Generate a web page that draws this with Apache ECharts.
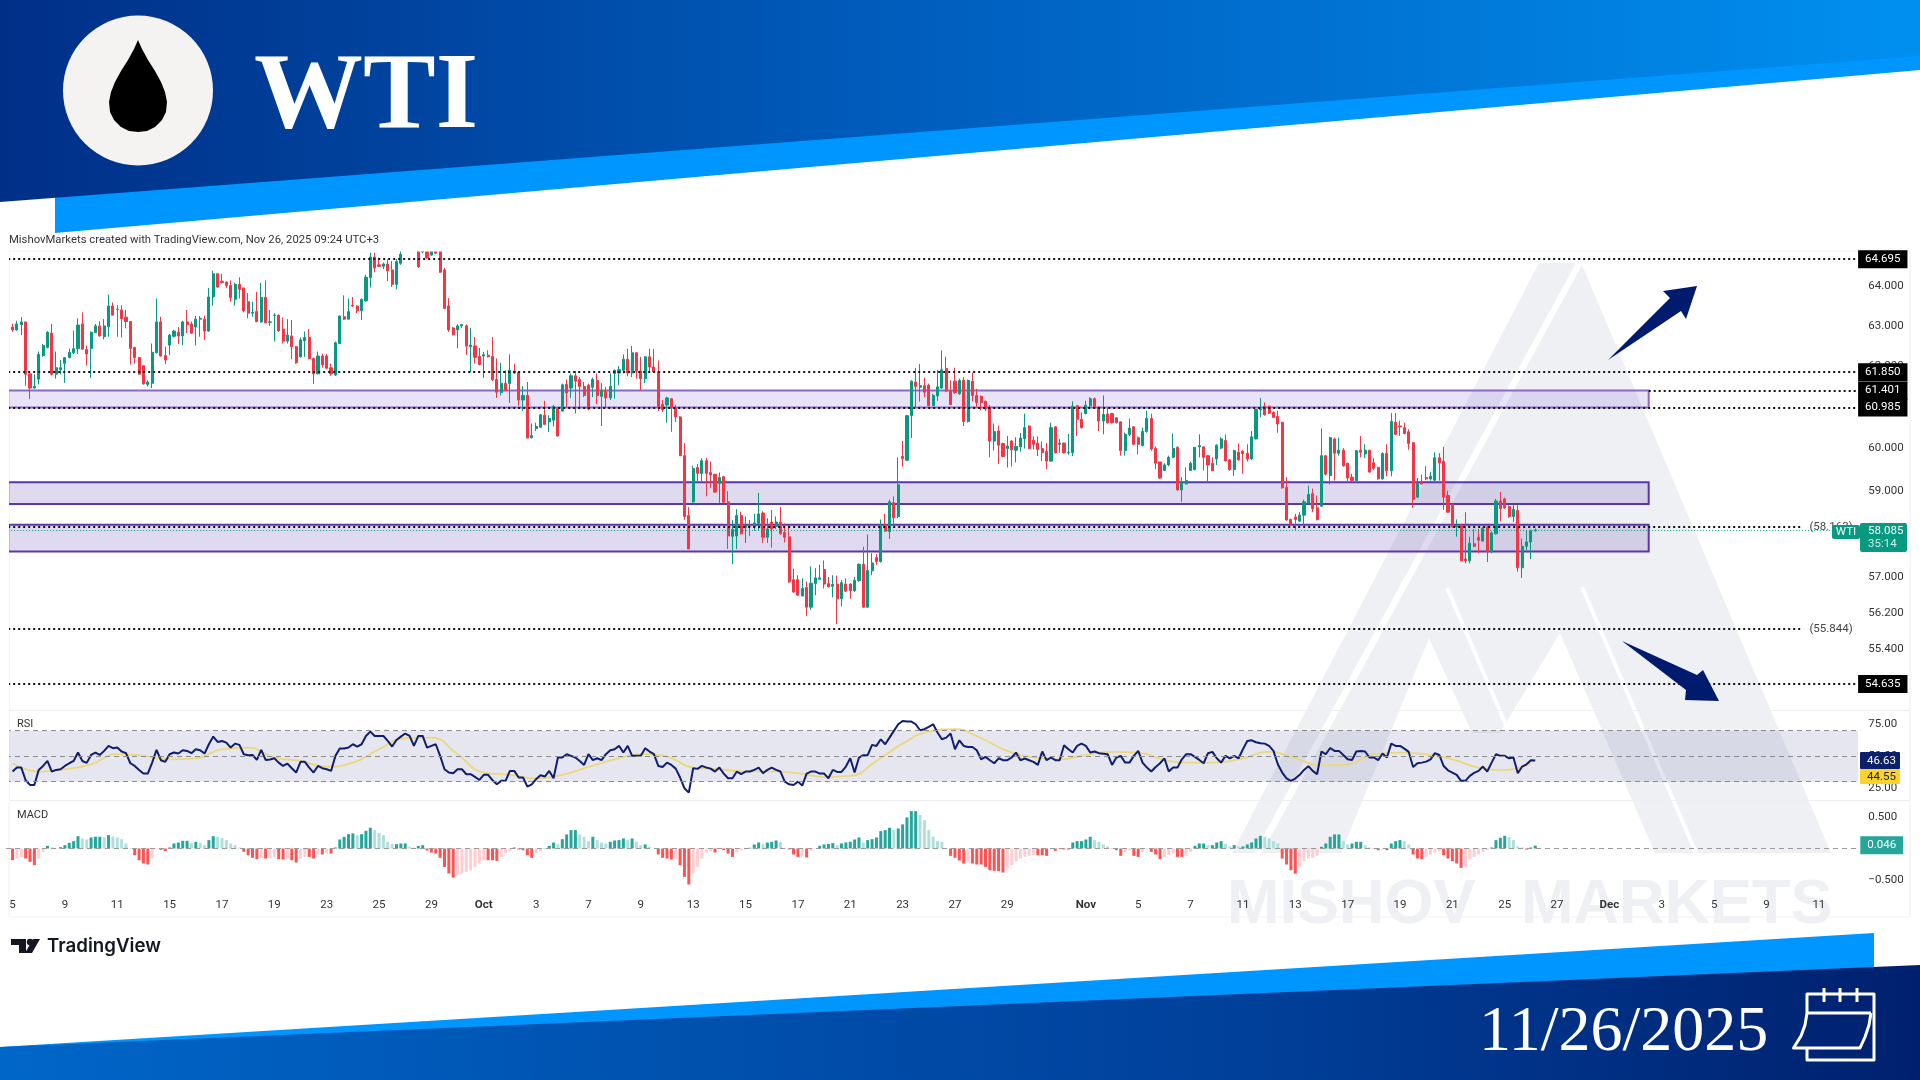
<!DOCTYPE html>
<html>
<head>
<meta charset="utf-8">
<title>WTI</title>
<script src="https://cdn.jsdelivr.net/npm/echarts@6/dist/echarts.min.js"></script>
<style>
html,body{margin:0;padding:0;background:#fff}
#maind{width:1920px;height:1080px}
</style>
</head>
<body>
<div id="maind"></div>
<script>
// candles, rows are [open, close, low, high]
var candlesSep = [
[62.97,62.9,62.85,63.05],[62.9,63.05,62.88,63.13],[63.03,63.1,62.77,63.22],[63.1,61.8,61.52,63.1],[61.81,61.46,61.19,61.81],
[61.46,61.5,61.45,61.8],[61.68,62.29,61.55,62.36],[62.26,62.51,62.23,62.55],[62.46,62.84,62.44,62.87],[62.82,61.8,61.77,63.05],
[61.8,61.96,61.69,62.36],[61.91,61.96,61.8,62.15],[62.07,62.21,61.59,62.21],[62.21,62.34,62.19,62.43],[62.33,62.43,62.3,62.88],
[62.43,63.02,62.3,63.19],[63.05,62.42,62.4,63.34],[62.41,62.3,62.01,62.51],[62.44,62.84,61.71,62.86],[62.83,63.0,62.82,63.05],
[63.0,62.75,62.73,63.12],[62.73,63.0,62.66,63.17],[62.98,63.5,62.73,63.79],[63.5,63.27,63.26,63.59],[63.42,63.41,62.73,63.52],
[63.4,63.18,62.71,63.52],[63.22,63.11,62.94,63.4],[63.11,62.44,62.04,63.11],[62.46,62.21,62.06,62.48],[62.21,61.8,61.8,62.23],
[62.01,61.56,61.55,62.02],[61.55,61.61,61.5,61.65],[61.58,62.34,61.46,62.56],[62.33,63.1,62.31,63.69],[63.1,62.25,62.23,63.23],
[62.26,62.15,62.05,62.48],[62.52,62.77,62.27,62.8],[62.74,62.87,62.71,62.9],[62.84,62.75,62.55,62.97],[62.75,63.1,62.52,63.13],
[63.1,63.03,62.82,63.4],[63.05,62.82,62.8,63.11],[62.97,63.17,62.51,63.25],[63.17,63.19,62.73,63.25],[63.17,62.87,62.65,63.26],
[62.87,63.73,62.85,63.96],[63.73,64.32,63.51,64.4],[64.32,63.98,63.97,64.33],[64.13,64.1,64.07,64.32],[64.11,64.02,63.96,64.12],
[64.02,63.71,63.61,64.15],[63.67,64.05,63.51,64.09],[64.05,63.92,63.69,64.23],[63.96,63.38,63.34,63.96],[63.61,63.32,63.19,63.83],
[63.32,63.34,63.23,63.61],[63.36,63.11,63.09,63.86],[63.1,63.72,63.08,64.09],[63.72,63.08,63.07,64.15],[63.09,63.1,63.0,63.4],
[63.26,63.27,62.61,63.32],[63.27,62.88,62.85,63.29],[62.92,62.62,62.56,63.21],[62.62,62.77,62.56,63.17],[62.75,62.48,62.17,63.15],
[62.48,62.08,62.06,62.5],[62.23,62.65,62.21,62.71],[62.63,62.71,62.23,62.86],[62.71,62.19,62.17,62.92],[62.19,61.81,61.56,62.21],
[61.81,62.25,61.8,62.36],[62.25,62.03,61.96,62.31],[62.25,61.95,61.93,62.3],[61.96,61.81,61.76,62.06],[61.78,62.58,61.76,62.61],
[62.56,63.25,62.55,63.26],[63.23,63.17,63.15,63.77],[63.17,63.36,63.16,63.69],[63.52,63.5,63.48,63.73],[63.5,63.38,63.32,63.52],
[63.38,63.67,63.15,63.69],[63.63,64.23,63.61,64.3],[64.22,64.75,63.97,64.86],[64.75,64.47,64.36,64.86],[64.55,64.51,64.5,64.73],
[64.51,64.57,64.44,64.61],[64.57,64.4,64.13,64.69],[64.42,64.05,63.98,64.65],[64.05,64.63,63.92,64.7],[64.59,64.82,64.55,64.9],
[64.9,65.1,64.89,65.3],[65.1,65.25,65.0,65.4],[65.25,65.0,64.95,65.45],[65.0,64.5,64.47,65.1],[64.88,65.0,64.85,65.1],
[64.9,64.73,64.7,65.0],[64.8,64.92,64.78,65.0],[64.92,64.85,64.82,65.0],[65.0,64.36,64.35,65.1],[64.42,63.44,63.42,64.47],
[63.5,62.9,62.85,63.7],[62.95,62.78,62.76,62.97],[62.9,63.0,62.44,63.04],[63.0,63.03,62.95,63.05],[63.0,62.5,62.28,63.04],
[62.48,62.52,61.85,62.95],[62.5,62.22,62.06,62.72],[62.24,62.04,62.02,62.45]
];
var candlesOct = [
[62.25,62.28,61.71,62.35],[62.27,62.23,62.21,62.39],[62.24,61.67,61.63,62.72],[61.67,61.36,61.22,62.19],[61.35,61.58,61.28,62.08],
[61.58,61.4,61.39,61.9],[61.57,61.9,61.1,62.29],[61.88,61.83,61.81,62.06],[61.84,61.17,61.03,61.86],[61.17,61.28,60.9,61.51],
[61.28,60.25,60.25,61.61],[60.26,60.31,60.24,60.6],[60.48,60.53,60.42,60.62],[60.51,60.81,60.49,60.82],[60.8,60.58,60.56,61.15],
[60.64,60.72,60.4,60.8],[60.68,61.01,60.53,61.05],[60.96,60.3,60.29,61.0],[60.9,61.54,60.89,61.57],[61.55,61.34,61.0,61.67],
[61.46,61.76,61.22,61.82],[61.76,61.63,60.84,61.88],[61.67,61.5,61.0,61.73],[61.5,61.28,61.24,61.61],[61.53,60.95,60.92,61.57],
[61.48,61.67,61.24,61.72],[61.65,61.28,61.07,61.82],[61.26,61.4,60.54,61.58],[61.4,61.22,60.98,61.49],[61.22,61.5,61.17,61.82],
[61.82,61.9,61.2,61.91],[61.83,61.91,61.53,62.0],[61.9,62.17,61.82,62.29],[62.17,61.83,61.75,62.43],[61.83,62.33,61.73,62.5],
[62.33,61.88,61.69,62.34],[61.88,61.69,61.4,62.23],[61.69,62.23,61.58,62.24],[62.23,61.98,61.88,62.43],[61.98,61.86,61.83,62.42],
[61.86,61.0,60.9,62.14],[61.06,60.93,60.88,61.17],[61.05,61.22,60.62,61.25],[61.2,61.0,60.4,61.22],[60.98,60.76,60.64,61.05],
[60.76,59.83,59.82,60.78],[59.83,58.4,58.32,60.13],[58.42,57.65,57.65,58.62],[58.74,59.52,58.72,59.59],[59.55,59.41,59.23,59.63],
[59.41,59.71,59.23,59.77],[59.71,59.41,58.87,59.78],[59.43,59.37,59.06,59.69],[59.39,58.97,58.95,59.39],[59.17,59.31,58.72,59.43],
[59.33,58.73,58.72,59.35],[58.74,57.95,57.65,58.99],[57.94,58.1,57.3,58.32],[57.95,58.42,57.65,58.57],[58.42,58.0,57.98,58.51],
[58.14,58.2,57.79,58.4],[58.2,58.17,57.95,58.32],[58.16,58.25,58.07,58.46],[58.24,58.46,58.08,58.95],[58.48,57.92,57.79,58.52],
[57.92,58.11,57.79,58.36],[58.27,58.11,57.68,58.55],[58.17,58.27,58.11,58.4],[58.27,58.0,57.98,58.62],[58.03,57.92,57.8,58.24],
[57.93,56.9,56.88,58.16],[56.95,56.67,56.65,57.2],[56.95,56.6,56.58,57.05],[56.58,56.75,56.58,56.98],[56.77,56.33,56.13,56.91],
[56.33,56.87,56.27,57.25],[56.86,56.99,56.6,57.21],[56.96,56.99,56.95,57.29],[57.18,56.85,56.75,57.39],[56.86,56.79,56.77,57.01],
[56.8,56.84,56.55,57.05],[56.85,56.52,55.95,57.04],[56.52,56.88,56.35,56.94],[56.85,56.69,56.67,56.98],[56.85,56.7,56.52,56.87],
[56.7,56.93,56.67,57.01],[56.93,57.3,56.9,57.32],[57.3,56.33,56.32,57.7],[56.33,57.16,56.32,57.98],[57.15,57.33,57.05,57.55],
[57.45,57.36,57.29,57.53],[57.36,58.17,57.34,58.33],[58.2,58.06,58.05,58.46],[58.05,58.74,57.88,58.79],[58.72,58.37,58.2,58.87],
[58.4,59.14,58.36,59.79],[59.81,59.76,59.57,60.18],[59.72,60.79,59.7,60.8],[60.79,61.63,60.25,61.65],[61.61,61.5,61.0,61.95],
[61.48,61.52,61.13,62.05],[61.52,61.36,61.24,61.71],[61.53,61.03,61.02,61.57],[61.03,61.28,61.03,61.32],[61.27,61.49,61.15,61.91],
[61.46,61.91,61.44,62.39],[61.94,61.39,61.36,62.23],[61.4,61.06,61.04,61.65],[61.63,61.35,61.32,61.96],[61.32,61.65,61.3,61.69],
[61.65,60.65,60.54,61.73],[60.65,61.65,60.62,61.67],[61.63,61.28,61.14,61.84],[61.28,61.11,61.0,61.44],[61.26,61.11,60.92,61.28],
[61.14,60.95,60.9,61.15],[61.0,60.18,59.79,61.05],[60.18,60.41,59.95,60.6],[60.42,60.08,59.63,60.55],[60.12,59.81,59.79,60.14],
[60.0,60.06,59.55,60.3],[60.18,59.97,59.57,60.2],[59.96,60.05,59.67,60.27],[60.04,60.25,59.93,60.37],[60.24,60.5,60.0,60.84],
[60.54,60.0,59.98,60.55],[60.2,60.1,59.98,60.29],[60.13,59.98,59.82,60.29]
];
var candlesNov = [
[60.0,59.9,59.7,60.17],[59.93,59.7,59.51,60.13],[59.7,60.5,59.68,60.62],[60.52,59.9,59.88,60.53],[60.1,60.13,59.9,60.23],
[60.13,59.9,59.88,60.14],[59.9,59.91,59.85,60.35],[59.9,61.02,59.82,61.14],[61.03,60.7,60.3,61.04],[60.7,60.5,60.48,60.87],
[60.84,61.04,60.82,61.15],[61.03,61.2,61.0,61.24],[61.2,60.98,60.96,61.23],[61.0,60.66,60.42,61.0],[60.66,60.82,60.34,61.28],
[60.83,60.62,60.6,60.98],[60.84,60.62,60.6,60.86],[60.74,60.62,60.6,60.75],[60.64,59.95,59.83,60.65],[59.95,60.34,59.83,60.38],
[60.34,60.49,60.3,60.72],[60.52,60.1,60.08,60.53],[60.26,60.1,59.86,60.29],[60.07,60.41,60.05,60.5],[60.41,60.72,60.38,60.91],
[60.72,59.99,59.95,60.84],[60.0,59.65,59.51,60.05],[59.68,59.3,59.28,59.68],[59.48,59.61,59.47,59.65],[59.61,59.79,59.58,59.83],
[59.79,60.0,59.77,60.36],[60.03,59.02,59.0,60.05],[59.02,59.2,58.74,59.32],[59.16,59.24,59.15,59.55],[59.48,59.65,59.47,59.69],
[59.5,60.03,59.48,60.03],[60.04,60.07,59.79,60.34],[60.04,59.79,59.48,60.05],[59.83,59.61,59.22,59.85],[59.65,59.47,59.47,59.79],
[59.75,60.08,59.61,60.1],[60.01,60.23,59.99,60.27],[60.19,59.71,59.69,60.34],[59.73,59.5,59.47,59.75],[59.5,59.95,59.35,59.97],
[59.91,59.73,59.71,60.12],[59.93,59.88,59.4,59.97],[59.89,59.75,59.69,60.1],[59.75,60.28,59.73,60.42],[60.23,60.94,60.22,60.95],
[60.93,60.95,60.75,61.22],[61.02,60.81,60.79,61.11],[61.02,60.85,60.83,61.03],[60.87,60.75,60.73,60.89],[60.77,60.59,60.38,60.91],
[60.63,59.07,59.05,60.64],[59.08,58.32,58.3,59.32],[58.33,58.22,58.19,58.35],[58.39,58.33,58.08,58.46],[58.29,58.43,58.27,58.5],
[58.43,58.74,58.2,58.79],[58.71,58.91,58.68,59.12],[58.93,58.58,58.5,59.05],[58.6,58.33,58.31,58.89],[58.64,59.83,58.62,60.48],
[59.83,59.39,59.36,59.83],[59.36,60.26,59.15,60.28],[60.23,59.89,59.24,60.26],[59.89,59.96,59.83,60.26],[59.96,59.59,59.57,60.01],
[59.65,59.3,59.2,59.66],[59.32,59.24,59.2,59.4],[59.24,59.95,59.22,59.96],[59.96,59.91,59.79,60.3],[59.87,59.96,59.77,60.1],
[59.96,59.44,59.43,59.97],[59.66,59.53,59.49,59.77],[59.55,59.28,59.26,59.57],[59.28,59.88,59.26,59.91],[59.88,59.47,59.34,60.1],
[59.47,60.65,59.34,60.85],[60.63,60.34,60.32,60.85],[60.54,60.52,60.3,60.67],[60.5,60.36,60.34,60.62],[60.4,60.12,59.97,60.46],
[60.14,58.8,58.6,60.15],[58.85,59.18,58.84,59.3],[59.2,59.16,59.15,59.38],[59.31,59.28,59.25,59.58],[59.28,59.34,59.24,59.44],
[59.25,59.78,59.22,59.91],[59.78,59.66,59.24,59.89],[59.69,58.85,58.55,60.04],[58.89,58.5,58.49,59.0],[58.68,58.16,58.14,58.69],
[58.16,58.18,57.93,58.33],[58.2,57.38,57.37,58.22],[57.42,57.38,57.32,58.5],[57.38,57.78,57.32,57.93],[57.77,57.71,57.69,58.11],
[57.92,57.85,57.55,58.11],[57.83,58.12,57.82,58.16],[58.16,57.58,57.35,58.2],[57.58,58.02,57.55,58.05],[58.0,58.76,57.98,58.81],
[58.76,58.58,58.29,58.97],[58.81,58.6,58.58,58.84],[58.63,58.4,58.37,58.66],[58.4,58.56,58.27,58.66],[58.54,57.22,57.13,58.66],
[57.22,57.71,56.99,57.89],[57.71,57.81,57.62,58.08],[57.81,58.07,57.42,58.09],[58.07,58.085,58.05,58.12]
];

var rsiValues = [
38,41.1,41.1,31.2,27.5,27.5,39.3,42.4,46.3,38,39.3,39.8,42.4,44.5,46.3,52.9,46.3,44.8,51,52.9,
51,54.2,58.1,56.3,56.8,53.7,52.4,44.5,42.4,39.3,36.4,36.4,45,55,46.9,45.6,51.6,52.9,52.1,54.7,
54.2,52.4,55.5,54.7,52.1,59.4,65.4,61.2,62,60.7,56.8,59.9,58.9,51.6,50.8,51,47.1,55,47.1,47.4,
48.4,45,42.4,44.2,40.6,37.2,45.6,45.6,41.1,37.2,42.4,40.6,39.8,38.5,50.3,56,56,56.8,59.4,57.6,
59.4,65.9,69.3,65.9,65.9,65.9,62,57.6,62.8,65.4,67.8,65.9,58.1,65.9,65.9,56.8,58.1,59.4,50.3,39.8,
37.2,36.7,39.8,39.8,35.9,35.9,33.8,31.4,35.4,35.4,31.2,28,30.7,30.7,38.5,38.5,33.3,33.3,26.2,28,
32,35.1,34.1,38.5,32.7,49,49,51.6,50.3,49,46.3,43.2,51.6,46.9,48.4,46.9,51.6,54.7,55.5,58.1,
52.9,58.1,50.3,50.3,
50.3,56.3,53.7,51.6,42.4,41.6,45,43.2,40.3,33.3,24.9,21.5,40.6,40.1,42.4,41.1,40.3,38,41.1,36.4,
32.7,32.7,38,35.9,38,38,39.3,41.1,36.7,39.3,41.1,39.3,38,30.1,28,27.5,30.1,27,36.4,38,
38,36.4,36.4,32.7,39.3,37.7,37.7,41.9,48.4,37.2,49,50.8,50.8,58.9,58.1,63.3,59.4,64.6,69.9,75.1,
77.7,77.2,77.2,75.1,70.4,71.2,73,75.1,68.6,63.3,64.6,67.8,55.5,62.5,58.1,57.3,57.3,54.7,47.6,49.5,
46.9,44.5,48.4,46.9,46.9,49,52.9,46.9,48.2,46.9,45.6,43.2,53.7,46.9,49,46.9,46.9,58.6,55.5,52.9,
58.1,59.9,58.1,52.9,53.7,52.4,52,51.6,43.2,49,50.3,45,45,50.3,54.2,45,41.1,38,41.6,44.5,
48.4,38,41.1,41.1,47.6,51.6,51.6,49.5,47.1,44.5,52.4,53.4,48.4,45,50.3,48.4,50.3,48.4,55.5,62,
62.5,61,60.2,59.9,58.1,54.2,43.7,
37.2,32.7,30.7,32.5,35.4,39.3,42.2,38.5,35.9,53.7,51.6,56.5,54.2,54.2,51,47.6,47.1,53.7,54.2,53.7,
49,49,46.9,52.1,49,59.9,58.1,58.1,56,53.4,41.6,44.5,45,45.8,47.6,52.4,51,42.4,39,37.2,
35.4,30.7,30.7,34.6,36.9,38.5,41.9,38,45,51.6,50.3,50.3,48.4,49,36.7,41.9,43.7,46.9,46.63
];
// RSI moving average, read at every 6th bar
var rsiMaEvery6 = [
44.5,38,39.8,43.7,51.6,50.3,47.6,48.4,55.5,56.8,49,46.3,41.9,45,55.5,64.1,64.6,51.6,37.2,35.4,
32.7,35.4,41.6,47.6,51.6,49.7,41.1,39.8,38,38.2,36.7,33.8,34.6,46.3,59.9,69.3,71.2,64.1,54.2,49,
47.6,51,53.4,52.9,47.1,45,45,48.4,53.7,48.4,42.9,43.7,51.6,52.9,51.6,47.6,41.1,39.3,44.55
];
var macdHist = [
-.185,-.159,-.133,-.159,-.212,-.265,-.159,-.053,.042,.016,.005,.021,.053,.09,.117,.196,.159,.143,.175,.186,
.186,.175,.212,.191,.175,.148,.08,.005,-.106,-.186,-.238,-.254,-.159,-.016,-.021,-.042,.016,.08,.095,.122,
.122,.09,.106,.09,.053,.133,.196,.186,.17,.133,.08,.053,.016,-.053,-.106,-.148,-.17,-.148,-.159,-.148,
-.133,-.17,-.175,-.159,-.186,-.223,-.159,-.133,-.133,-.159,-.095,-.095,-.08,-.08,.016,.143,.186,.228,.239,.212,
.228,.281,.329,.292,.249,.212,.106,.069,.069,.08,.08,.027,.011,.042,.053,-.032,-.064,-.08,-.148,-.292,
-.398,-.461,-.424,-.398,-.371,-.345,-.292,-.239,-.186,-.186,-.186,-.196,-.133,-.08,-.042,.016,-.016,-.027,-.106,-.148,
-.08,-.042,.005,.042,.095,.069,.148,.223,.292,.292,.223,.186,.117,.186,.133,.095,.08,.106,.127,.133,
.159,.133,.159,.106,
.053,.064,.027,0,-.095,-.148,-.159,-.175,-.17,-.265,-.45,-.572,-.398,-.292,-.159,-.064,-.042,-.064,-.011,-.027,
-.08,-.133,-.064,-.032,-.016,.011,.064,.095,.074,.095,.106,.127,.106,.011,-.016,-.095,-.133,-.127,-.143,-.042,
-.005,.042,.064,.074,.085,.053,.08,.095,.106,.143,.175,.095,.133,.148,.175,.276,.292,.329,.292,.318,
.382,.493,.593,.593,.53,.45,.292,.186,.117,.106,.005,-.117,-.148,-.19,-.239,-.223,-.239,-.254,-.254,-.292,
-.345,-.355,-.36,-.382,-.318,-.265,-.201,-.159,-.133,-.117,-.106,-.106,-.106,-.117,-.016,-.037,-.016,-.016,-.016,.095,
.117,.117,.143,.186,.133,.106,.064,.032,-.005,-.027,-.117,-.064,-.027,-.117,-.133,-.053,-.016,-.053,-.095,-.17,
-.133,-.106,-.08,-.133,-.133,-.117,-.053,.042,.08,.08,.053,.053,.095,.117,.074,.032,.053,.032,.032,.064,
.095,.159,.201,.186,.159,.117,.08,
-.159,-.254,-.345,-.398,-.292,-.201,-.159,-.148,-.117,.027,.08,.186,.223,.223,.117,.064,.08,.106,.106,.053,
.016,-.005,-.027,-.016,-.027,.08,.117,.133,.117,.064,-.095,-.159,-.17,-.133,-.095,-.064,-.042,-.106,-.159,-.201,
-.239,-.307,-.292,-.17,-.133,-.095,-.053,-.027,.016,.133,.17,.201,.186,.133,.032,.016,-.016,.016,.046
];

var timeTickBars = [0,12,24,36,48,60,72,84,96,108,120,132,144,156,168,180,192,204,216,228,246,258,270,282,294,306,318,330,342,354,366,378,390,402,414];
var timeTickLabels = ['5','9','11','15','17','19','23','25','29','Oct','3','7','9','13','15','17','21','23','27','29','Nov','5','7','11','13','17','19','21','25','27','Dec','3','5','9','11'];
var priceTicks = [64, 63, 62, 60, 59, 57, 56.2, 55.4];
var blackLevels = [64.695, 61.85, 61.401, 60.985, 54.635];
var openLevels = [58.163, 55.844];
var lastPrice = 58.085;
var zones = [[61.401, 60.985, 'light'], [59.2, 58.69, 'dark'], [58.21, 57.59, 'dark']];
var rsiTicks = [75, 50, 25];
var rsiBands = [70, 50, 30];
var macdTicks = [0.5, -0.5];

var SLOTS = 425;        // one empty slot in front, then 4h bars and the empty right side
var font = 'Roboto';
var UP = '#089981', DOWN = '#f23645';

var slotNames = [];
for (var s = 0; s < SLOTS; s++) slotNames.push(String(s));
var tickBySlot = {};
timeTickBars.forEach(function (b, i) { tickBySlot[b + 1] = timeTickLabels[i]; });

var allCandles = candlesSep.concat(candlesOct, candlesNov);
var candleData = [['-', '-', '-', '-']].concat(allCandles);
var rsiData = ['-'].concat(rsiValues);
var rsiMaData = [];
for (var k = 0; k < SLOTS; k++) rsiMaData.push(null);
rsiMaEvery6.forEach(function (v, i) { rsiMaData[1 + i * 6] = v; });
var macdData = [{ value: '-' }];
macdHist.forEach(function (v, i) {
    var prev = i ? macdHist[i - 1] : v;
    var col = v >= 0 ? (v >= prev ? '#26a69a' : '#b2dfdb') : (v <= prev ? '#ff5252' : '#ffcdd2');
    macdData.push({ value: v, itemStyle: { color: col } });
});

// invisible line, opacity 0 would hide the label too
var noLine = { color: 'rgba(0,0,0,0)', width: 0 };
function tickMark(v, text) {
    return { yAxis: v, lineStyle: noLine, label: { show: true, position: 'end', distance: 8, formatter: text, color: '#333', fontFamily: font, fontSize: 11.5 } };
}
function tagMark(v, text, bg, fg) {
    return { yAxis: v, lineStyle: noLine, label: { show: true, position: 'end', distance: 0, formatter: text, color: fg, backgroundColor: bg, padding: [3, 7], fontFamily: font, fontSize: 11.5 } };
}
function hLevel(v, endSlot, label) {
    return [
        { xAxis: 0, yAxis: v, label: label || { show: false } },
        { xAxis: endSlot, yAxis: v }
    ];
}

var priceMarks = priceTicks.map(function (v) { return tickMark(v, v.toFixed(3)); });
var dotted = { color: '#111', type: [2, 3], width: 2 };
var levelMarks = blackLevels.map(function (v) {
    var line = hLevel(v, SLOTS - 1, { show: true, position: 'end', distance: 0, formatter: v.toFixed(3), color: '#fff', backgroundColor: '#000', padding: [3, 7], fontFamily: font, fontSize: 11.5 });
    line[0].lineStyle = (v === 61.401) ? noLine : dotted;
    return line;
});
// 61.401 is only dotted to the right of its zone
var zoneEndSlot = 376;
var partLevel = [{ xAxis: zoneEndSlot, yAxis: 61.401, lineStyle: dotted, label: { show: false } }, { xAxis: SLOTS - 1, yAxis: 61.401 }];
var openMarks = openLevels.map(function (v) {
    var line = hLevel(v, 411, { show: true, position: 'end', distance: 8, formatter: '(' + v.toFixed(3) + ')', color: '#444', fontFamily: font, fontSize: 11.5 });
    line[0].lineStyle = dotted;
    return line;
});
var lastLine = hLevel(lastPrice, SLOTS - 1);
lastLine[0].lineStyle = { color: UP, type: [1, 2], width: 1 };

var zoneAreas = zones.map(function (z) {
    var dark = z[2] === 'dark';
    return [{
        xAxis: 0, yAxis: z[0],
        itemStyle: {
            color: dark ? 'rgba(86,56,168,0.19)' : 'rgba(126,87,214,0.17)',
            borderColor: dark ? '#5a37ad' : '#8a69c9', borderWidth: 2
        }
    }, { xAxis: zoneEndSlot, yAxis: z[1] }];
});

var rsiMarks = rsiTicks.map(function (v) { return tickMark(v, v.toFixed(2)); })
    .concat(rsiBands.map(function (v) { return { yAxis: v, lineStyle: { color: '#8c8c8c', type: [5, 4], width: 1 }, label: { show: false } }; }));
var macdMarks = macdTicks.map(function (v) { return tickMark(v, (v < 0 ? '\u2212' : '') + Math.abs(v).toFixed(3)); });
macdMarks.push({ yAxis: 0, lineStyle: { color: '#9a9a9a', type: [5, 4], width: 1 }, label: { show: false } });
macdMarks.push(tagMark(0.046, '0.046', '#26a69a', '#fff'));

function poly(points, fill, z) {
    return { type: 'polygon', silent: true, z: z || 0, shape: { points: points }, style: { fill: fill } };
}
function pline(points, z) {
    return { type: 'polyline', silent: true, z: z || 0, shape: { points: points }, style: { fill: 'none', stroke: '#fff', lineWidth: 3, lineJoin: 'round' } };
}
function txt(x, y, text, f, fill, align, z) {
    return { type: 'text', silent: true, z: z || 0, style: { x: x, y: y, text: text, font: f, fill: fill, textAlign: align || 'left', textVerticalAlign: 'middle' } };
}
var wm = '#eff0f4';
var topGrad = new echarts.graphic.LinearGradient(0, 0, 1, 0, [{ offset: 0, color: '#002f87' }, { offset: 0.5, color: '#0060c0' }, { offset: 1, color: '#0090f0' }]);
var botGrad = new echarts.graphic.LinearGradient(0, 0, 1, 0, [{ offset: 0, color: '#0066c8' }, { offset: 0.65, color: '#00409a' }, { offset: 1, color: '#00206e' }]);
var dropPoints = [[138,40],[134,49],[128,60],[121,71],[115,82],[111,92],[109,102],[110,112],[114,120],[121,127],[129,131],[138,132],[147,131],[155,127],[162,120],[166,112],[167,102],[165,92],[161,82],[155,71],[148,60],[142,49]];

var graphics = [
    // watermark sits under the series
    poly([[1539, 263], [1576, 263], [1254, 853], [1232, 853]], wm),
    poly([[1582, 265], [1262, 853], [1341, 853], [1429, 638], [1472, 733], [1500, 733], [1560, 633], [1655, 853], [1831, 853]], wm),
    { type: 'line', silent: true, shape: { x1: 1447, y1: 588, x2: 1509, y2: 732 }, style: { stroke: '#fff', lineWidth: 4 } },
    { type: 'line', silent: true, shape: { x1: 1582, y1: 587, x2: 1696, y2: 853 }, style: { stroke: '#fff', lineWidth: 4 } },
    txt(1227, 906, 'MISHOV', '700 63px "Liberation Sans"', wm),
    txt(1521, 906, 'MARKETS', '700 63px "Liberation Sans"', wm),
    // pane frame
    { type: 'rect', silent: true, shape: { x: 9, y: 251, width: 1901, height: 666 }, style: { fill: 'none', stroke: '#f0f0f3', lineWidth: 1 } },
    { type: 'line', silent: true, shape: { x1: 9, y1: 710.5, x2: 1910, y2: 710.5 }, style: { stroke: '#eeeef1', lineWidth: 1 } },
    { type: 'line', silent: true, shape: { x1: 9, y1: 800.5, x2: 1910, y2: 800.5 }, style: { stroke: '#eeeef1', lineWidth: 1 } },
    // banners
    poly([[55, 190], [1920, 50], [1920, 70], [55, 233]], '#0096ff'),
    poly([[0, 0], [1920, 0], [1920, 56], [0, 202]], topGrad),
    poly([[0, 1047], [1874, 933], [1874, 980], [0, 1060]], '#0096ff'),
    poly([[0, 1047], [1920, 965], [1920, 1080], [0, 1080]], botGrad),
    { type: 'circle', silent: true, shape: { cx: 138, cy: 90.5, r: 75 }, style: { fill: '#f5f3f1' } },
    poly(dropPoints, '#000'),
    txt(254, 99, 'WTI', '700 109px "Liberation Serif"', '#fff'),
    txt(1479, 1033, '11/26/2025', '400 64px "Liberation Serif"', '#fff'),
    // calendar icon
    pline([[1807, 1013], [1807, 994], [1874, 994], [1874, 1060], [1807, 1060], [1807, 1048]]),
    pline([[1807, 1013], [1871, 1013]]),
    pline([[1807, 1013], [1805, 1025], [1801, 1036], [1793.5, 1048], [1860, 1048], [1865, 1037], [1869, 1025], [1871, 1013]]),
    pline([[1824, 988], [1824, 1002]]),
    pline([[1840, 988], [1840, 1002]]),
    pline([[1857, 988], [1857, 1002]]),
    // candles run off the top of the pane in the reference, this hides what is above it
    { type: 'rect', silent: true, z: 10, shape: { x: 360, y: 220, width: 100, height: 31.5 }, style: { fill: '#fff' } },
    // panes start at x=9, zones and levels run off that edge
    { type: 'rect', silent: true, z: 10, shape: { x: 0, y: 252, width: 9, height: 550 }, style: { fill: '#fff' } },
    // headers and logo
    txt(9, 240, 'MishovMarkets created with TradingView.com, Nov 26, 2025 09:24 UTC+3', '400 11.3px Roboto', '#333', 'left', 11),
    txt(17, 724, 'RSI', '400 11px Roboto', '#333'),
    txt(17, 815, 'MACD', '400 11px Roboto', '#333'),
    poly([[11, 939], [26, 939], [26, 953], [19, 953], [19, 945], [11, 945]], '#131722'),
    { type: 'circle', silent: true, shape: { cx: 30, cy: 942, r: 3.2 }, style: { fill: '#131722' } },
    poly([[33, 939], [40, 939], [32, 953], [25, 953]], '#131722'),
    txt(47, 946, 'TradingView', '600 18.7px Inter', '#131722'),
    // arrows and price tags sit above the series
    poly([[1608, 360], [1670, 298], [1663, 291], [1697, 286], [1686, 319], [1681, 311]], '#001a6e', 20),
    poly([[1622, 641], [1697, 675], [1703, 670], [1719, 701], [1685, 700], [1686, 690]], '#001a6e', 20),
    { type: 'rect', silent: true, z: 20, shape: { x: 1832, y: 525, width: 28, height: 14, r: 2 }, style: { fill: UP } },
    txt(1846, 532, 'WTI', '400 11.5px Roboto', '#fff', 'center', 21),
    { type: 'rect', silent: true, z: 20, shape: { x: 1860, y: 523, width: 47, height: 29, r: 2 }, style: { fill: UP } },
    txt(1868, 531, '58.085', '400 11.5px Roboto', '#fff', 'left', 21),
    txt(1868, 544, '35:14', '400 11.5px Roboto', '#cdeee6', 'left', 21),
    { type: 'rect', silent: true, z: 20, shape: { x: 1860, y: 752, width: 40, height: 17, r: 1 }, style: { fill: '#0b1f6b' } },
    txt(1867, 761, '46.63', '400 11.5px Roboto', '#fff', 'left', 21),
    { type: 'rect', silent: true, z: 20, shape: { x: 1860, y: 769, width: 40, height: 15, r: 1 }, style: { fill: '#fbd32d' } },
    txt(1867, 777, '44.55', '400 11.5px Roboto', '#222', 'left', 21)
];

function xAxisFor(gridIndex, withLabels) {
    return {
        type: 'category', gridIndex: gridIndex, data: slotNames, boundaryGap: true,
        axisLine: { show: false }, axisTick: { show: false }, splitLine: { show: false },
        axisLabel: withLabels ? {
            show: true, margin: 8, hideOverlap: false, color: '#333', fontFamily: font, fontSize: 11.5,
            interval: function (i) { return tickBySlot[i] !== undefined; },
            formatter: function (v, i) {
                var t = tickBySlot[i] || '';
                return /[A-Za-z]/.test(t) ? '{b|' + t + '}' : t;
            },
            rich: { b: { fontWeight: 700, fontFamily: font, fontSize: 11.5, color: '#333' } }
        } : { show: false }
    };
}

var myChart = echarts.init(document.getElementById('maind'));
var option = {
    animation: false,
    backgroundColor: '#fff',
    grid: [
        { left: 6, top: 252, width: 1854.3, height: 459 },
        { left: 6, top: 712, width: 1854.3, height: 89 },
        { left: 6, top: 801, width: 1854.3, height: 90 }
    ],
    xAxis: [xAxisFor(0, false), xAxisFor(1, false), xAxisFor(2, true)],
    yAxis: [
        { type: 'log', gridIndex: 0, min: 54.05, max: 64.88, axisLine: { show: false }, axisTick: { show: false }, axisLabel: { show: false }, splitLine: { show: false }, minorSplitLine: { show: false } },
        { type: 'value', gridIndex: 1, min: 14.9, max: 84.7, axisLine: { show: false }, axisTick: { show: false }, axisLabel: { show: false }, splitLine: { show: false } },
        { type: 'value', gridIndex: 2, min: -0.675, max: 0.754, axisLine: { show: false }, axisTick: { show: false }, axisLabel: { show: false }, splitLine: { show: false } }
    ],
    graphic: { elements: graphics },
    series: [
        {
            name: 'WTI', type: 'candlestick', xAxisIndex: 0, yAxisIndex: 0, data: candleData, barWidth: 2.6, clip: true,
            itemStyle: { color: UP, color0: DOWN, borderColor: UP, borderColor0: DOWN, borderWidth: 1 },
            markArea: { silent: true, data: zoneAreas },
            markLine: {
                silent: true, symbol: 'none', animation: false,
                data: priceMarks.concat(levelMarks, [partLevel], openMarks, [lastLine])
            }
        },
        {
            name: 'RSI', type: 'line', xAxisIndex: 1, yAxisIndex: 1, data: rsiData, showSymbol: false, z: 4,
            lineStyle: { color: '#0f1f6e', width: 2 },
            markArea: {
                silent: true,
                data: [[{ xAxis: 0, yAxis: 70, itemStyle: { color: 'rgba(60,62,140,0.13)' } }, { xAxis: SLOTS - 1, yAxis: 30 }]]
            },
            markLine: { silent: true, symbol: 'none', animation: false, data: rsiMarks }
        },
        {
            name: 'RSI MA', type: 'line', xAxisIndex: 1, yAxisIndex: 1, data: rsiMaData, connectNulls: true, smooth: 0.5, showSymbol: false, z: 3,
            lineStyle: { color: '#ecd87a', width: 1.8 }
        },
        {
            name: 'MACD', type: 'bar', xAxisIndex: 2, yAxisIndex: 2, data: macdData, barWidth: 3,
            markLine: { silent: true, symbol: 'none', animation: false, data: macdMarks }
        }
    ]
};
myChart.setOption(option);
</script>
</body>
</html>
